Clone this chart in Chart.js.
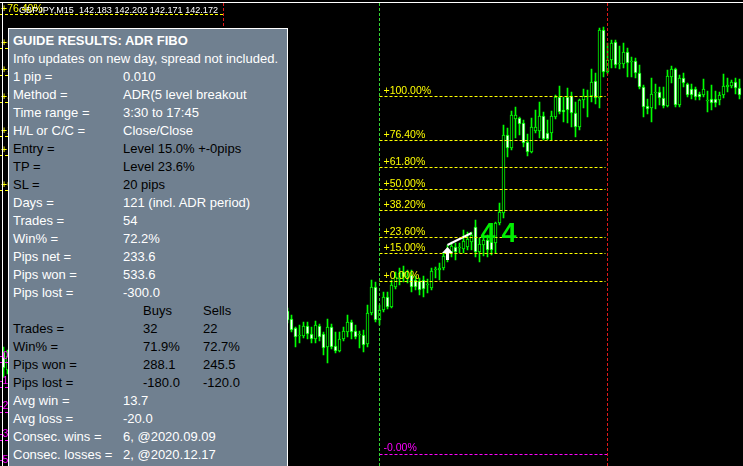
<!DOCTYPE html>
<html>
<head>
<meta charset="utf-8">
<script src="https://cdn.jsdelivr.net/npm/chart.js@4.4.0/dist/chart.umd.min.js"></script>
<style>
  html, body { margin: 0; padding: 0; background: #000; overflow: hidden; }
  #wrap { position: relative; width: 743px; height: 466px; }
  #panel {
    position: absolute; left: 8px; top: 28px; width: 278px; height: 440px;
    background: #708090; border: 1px solid #fff; border-bottom: none;
    font: 13px "Liberation Sans", Arial, sans-serif; overflow: hidden;
  }
  #panel div { position: absolute; height: 18px; line-height: 18px; white-space: nowrap; }
</style>
</head>
<body>
<div id="wrap">
  <canvas id="chart" width="743" height="466"></canvas>
  <div id="panel"></div>
</div>
<script>
// GBPJPY M15, bars are 15 min apart; index 0 = first bar at the left edge
const barCount = 185;
const startTime = Date.UTC(2020, 11, 29, 4, 0);

// two bars peeking out at the left edge (index 0, 1)
const edgeOpen  = [140.890, 140.800];
const edgeHigh  = [140.915, 140.900];
const edgeLow   = [140.765, 140.780];
const edgeClose = [140.810, 140.870];

// visible bars right of the info panel, from index 71 to 184
const firstBar = 71;
const open = [
  141.095, 141.055, 141.010, 140.970, 140.970, 141.020, 140.980, 140.955, 141.020, 140.980,
  140.915, 141.015, 140.920, 140.895, 140.955, 140.990, 141.040, 140.995, 140.975, 140.975,
  140.930, 141.085, 141.215, 141.050, 141.100, 141.165, 141.115, 141.215, 141.255, 141.290,
  141.265, 141.275, 141.250, 141.245, 141.250, 141.225, 141.210, 141.300, 141.300, 141.310,
  141.360, 141.390, 141.415, 141.410, 141.405, 141.415, 141.440, 141.515, 141.390, 141.425,
  141.450, 141.440, 141.435, 141.535, 141.585, 141.975, 141.910, 142.055, 142.060, 142.035,
  141.940, 141.890, 141.995, 141.995, 142.070, 141.985, 141.985, 142.065, 142.165, 142.100,
  142.165, 142.170, 142.085, 142.015, 142.150, 142.165, 142.170, 142.245, 142.160, 142.500,
  142.290, 142.350, 142.440, 142.330, 142.330, 142.390, 142.340, 142.345, 142.285, 142.215,
  142.120, 142.110, 142.185, 142.190, 142.160, 142.120, 142.265, 142.305, 142.125, 142.260,
  142.230, 142.205, 142.205, 142.180, 142.175, 142.145, 142.155, 142.155, 142.150, 142.175,
  142.215, 142.220, 142.240, 142.210
];
const high = [
  141.110, 141.075, 141.015, 141.025, 141.040, 141.040, 141.015, 141.045, 141.030, 140.990,
  141.055, 141.030, 140.990, 140.990, 141.015, 141.075, 141.050, 141.025, 140.995, 141.000,
  141.125, 141.250, 141.240, 141.125, 141.190, 141.190, 141.250, 141.290, 141.310, 141.320,
  141.300, 141.300, 141.270, 141.260, 141.270, 141.255, 141.310, 141.315, 141.335, 141.385,
  141.425, 141.440, 141.435, 141.435, 141.500, 141.490, 141.490, 141.550, 141.460, 141.470,
  141.475, 141.465, 141.540, 141.635, 142.025, 142.010, 142.095, 142.115, 142.065, 142.050,
  141.980, 142.060, 142.100, 142.140, 142.090, 142.050, 142.095, 142.175, 142.220, 142.165,
  142.210, 142.190, 142.140, 142.155, 142.205, 142.200, 142.305, 142.285, 142.510, 142.515,
  142.435, 142.450, 142.450, 142.420, 142.435, 142.410, 142.365, 142.360, 142.325, 142.225,
  142.155, 142.260, 142.230, 142.215, 142.215, 142.300, 142.320, 142.310, 142.275, 142.285,
  142.235, 142.230, 142.215, 142.190, 142.255, 142.195, 142.225, 142.195, 142.190, 142.280,
  142.260, 142.250, 142.260, 142.255
];
const low = [
  141.035, 140.990, 140.915, 140.935, 140.960, 140.955, 140.935, 140.935, 140.945, 140.875,
  140.835, 140.905, 140.885, 140.890, 140.945, 140.965, 140.955, 140.955, 140.910, 140.890,
  140.915, 141.075, 141.040, 141.025, 141.090, 141.105, 141.110, 141.205, 141.225, 141.240,
  141.235, 141.190, 141.200, 141.175, 141.165, 141.185, 141.200, 141.260, 141.250, 141.300,
  141.340, 141.365, 141.350, 141.385, 141.385, 141.400, 141.400, 141.365, 141.340, 141.370,
  141.365, 141.375, 141.385, 141.525, 141.560, 141.865, 141.900, 141.960, 141.975, 141.915,
  141.870, 141.885, 141.985, 141.960, 141.950, 141.950, 141.950, 142.055, 142.080, 142.040,
  142.035, 142.015, 141.965, 142.000, 142.110, 142.065, 142.140, 142.130, 142.110, 142.265,
  142.280, 142.310, 142.310, 142.305, 142.310, 142.265, 142.265, 142.260, 142.205, 142.065,
  142.080, 142.040, 142.105, 142.125, 142.110, 142.115, 142.235, 142.115, 142.115, 142.215,
  142.165, 142.155, 142.150, 142.150, 142.165, 142.090, 142.100, 142.115, 142.125, 142.160,
  142.190, 142.210, 142.180, 142.155
];
const close = [
  141.050, 141.000, 140.965, 140.970, 141.020, 140.980, 140.955, 141.025, 140.965, 140.910,
  141.015, 140.915, 140.895, 140.955, 140.995, 141.040, 140.990, 140.965, 140.975, 140.925,
  141.085, 141.215, 141.050, 141.100, 141.165, 141.115, 141.225, 141.265, 141.285, 141.265,
  141.265, 141.215, 141.215, 141.200, 141.205, 141.225, 141.295, 141.300, 141.310, 141.370,
  141.400, 141.420, 141.390, 141.410, 141.445, 141.455, 141.475, 141.390, 141.430, 141.450,
  141.400, 141.400, 141.535, 141.590, 141.975, 141.910, 142.075, 142.075, 142.030, 141.935,
  141.890, 142.015, 142.015, 142.070, 141.955, 141.955, 142.070, 142.165, 142.090, 142.090,
  142.100, 142.085, 142.015, 142.150, 142.170, 142.165, 142.240, 142.160, 142.500, 142.290,
  142.350, 142.435, 142.325, 142.330, 142.390, 142.335, 142.340, 142.285, 142.215, 142.115,
  142.105, 142.180, 142.185, 142.160, 142.120, 142.270, 142.305, 142.125, 142.260, 142.235,
  142.175, 142.175, 142.165, 142.165, 142.205, 142.145, 142.135, 142.135, 142.175, 142.220,
  142.225, 142.240, 142.210, 142.175
];

// ADR fibo of the current day (time range 3:30 - 17:45)
const dayLow = 141.245, dayHigh = 142.170;
const rangeStart = 94, rangeEnd = 151;
const fibPercents = [100, 76.4, 61.8, 50, 38.2, 23.6, 15, 0];
const fibTexts = ['+100.00%', '+76.40%', '+61.80%', '+50.00%', '+38.20%', '+23.60%', '+15.00%', '+0.00%'];
const sellLevel = 140.380, sellText = '-0.00%';

// previous day (mostly hidden under the panel)
const prevLow = 141.700, prevHigh = 142.852, prevEnd = 55;
const prevSellLevels = [140.840, 140.715, 140.590, 140.450, 140.320];
const prevSellTexts = ['-0.00%', '-15.00%', '-23.60%', '-38.20%', '-50.00%'];

// trade: buy arrow and line to take profit
const tradeFrom = 111, tradeTo = 117;
const tradePrices = [141.425, 141.485];
const arrowPrice = 141.415;
const countText = '44', countIndex = 119, countPrice = 141.440;

const titleText = 'GBPJPY,M15  142.183 142.202 142.171 142.172';

const panelRows = [
  ['GUIDE RESULTS: ADR FIBO', '', '', '#fff'],
  ['Info updates on new day, spread not included.', '', '', '#fff'],
  ['1 pip =', '0.010', '', '#fff'],
  ['Method =', 'ADR(5 level breakout', '', '#fff'],
  ['Time range =', '3:30 to 17:45', '', '#fff'],
  ['H/L or C/C =', 'Close/Close', '', '#fff'],
  ['Entry =', 'Level 15.0% +-0pips', '', '#000'],
  ['TP =', 'Level 23.6%', '', '#000'],
  ['SL =', '20 pips', '', '#000'],
  ['Days =', '121 (incl. ADR period)', '', '#fff'],
  ['Trades =', '54', '', '#fff'],
  ['Win% =', '72.2%', '', '#fff'],
  ['Pips net =', '233.6', '', '#fff'],
  ['Pips won =', '533.6', '', '#fff'],
  ['Pips lost =', '-300.0', '', '#fff'],
  ['', 'Buys', 'Sells', '#000'],
  ['Trades =', '32', '22', '#000'],
  ['Win% =', '71.9%', '72.7%', '#000'],
  ['Pips won =', '288.1', '245.5', '#000'],
  ['Pips lost =', '-180.0', '-120.0', '#000'],
  ['Avg win =', '13.7', '', '#fff'],
  ['Avg loss =', '-20.0', '', '#fff'],
  ['Consec. wins =', '6, @2020.09.09', '', '#fff'],
  ['Consec. losses =', '2, @2020.12.17', '', '#fff']
];

// ---- build tables for the chart ----
const pad = n => String(n).padStart(2, '0');
const labels = [];
for (let i = 0; i < barCount; i++) {
  const d = new Date(startTime + i * 15 * 60000);
  labels.push(d.getUTCFullYear() + '.' + pad(d.getUTCMonth() + 1) + '.' + pad(d.getUTCDate()) + ' ' + pad(d.getUTCHours()) + ':' + pad(d.getUTCMinutes()));
}
function place(edge, vis) {
  const a = new Array(barCount).fill(null);
  edge.forEach((v, k) => { a[k] = v; });
  vis.forEach((v, k) => { a[firstBar + k] = v; });
  return a;
}
const O = place(edgeOpen, open), H = place(edgeHigh, high), L = place(edgeLow, low), C = place(edgeClose, close);
const wicks = O.map((o, i) => o == null ? null : [L[i], H[i]]);
const bodies = O.map((o, i) => o == null ? null : [o, C[i]]);
const fills = O.map((o, i) => (o != null && C[i] < o) ? '#ffffff' : '#000000');
const tradeLine = [
  { x: labels[tradeFrom], y: tradePrices[0] },
  { x: labels[tradeTo], y: tradePrices[1] }
];

const LABEL_FONT = '10.5px "Liberation Sans", Arial, sans-serif';

function hDash(ctx, x0, x1, yy, color) {
  ctx.strokeStyle = color;
  ctx.lineWidth = 1;
  ctx.setLineDash([3, 2]);
  ctx.beginPath();
  ctx.moveTo(x0, Math.round(yy) + 0.5);
  ctx.lineTo(x1, Math.round(yy) + 0.5);
  ctx.stroke();
}
function vDash(ctx, xx, y0, y1, color) {
  ctx.strokeStyle = color;
  ctx.lineWidth = 1;
  ctx.setLineDash([3, 2]);
  ctx.beginPath();
  ctx.moveTo(Math.floor(xx) + 0.5, y0);
  ctx.lineTo(Math.floor(xx) + 0.5, y1);
  ctx.stroke();
}

const overlay = {
  id: 'overlay',
  afterDatasetsDraw(chart) {
    const { ctx, chartArea: ca, scales: { x, y } } = chart;
    ctx.save();
    ctx.font = LABEL_FONT;
    ctx.textBaseline = 'alphabetic';

    // previous day levels
    const prevX1 = x.getPixelForValue(prevEnd);
    fibPercents.forEach((p, k) => {
      const v = prevLow + (prevHigh - prevLow) * p / 100;
      const py = y.getPixelForValue(v);
      if (py < 3) return;
      hDash(ctx, 0, prevX1, py, '#ffff00');
      ctx.fillStyle = '#ffff00';
      ctx.fillText(fibTexts[k], 1, Math.round(py) - 2);
    });
    prevSellLevels.forEach((v, k) => {
      const py = y.getPixelForValue(v);
      hDash(ctx, 0, prevX1, py, '#ff00ff');
      ctx.fillStyle = '#ff00ff';
      ctx.fillText(prevSellTexts[k], -1, Math.round(py) - 3);
    });
    vDash(ctx, prevX1, 3, ca.bottom, '#e01818');

    // current day levels
    const x0 = x.getPixelForValue(rangeStart), x1 = x.getPixelForValue(rangeEnd);
    fibPercents.forEach((p, k) => {
      const v = dayLow + (dayHigh - dayLow) * p / 100;
      const py = y.getPixelForValue(v);
      hDash(ctx, x0, x1 - 2, py, '#ffff00');
      ctx.fillStyle = '#ffff00';
      ctx.fillText(fibTexts[k], x0 + 4, Math.round(py) - 2);
    });
    const sy = y.getPixelForValue(sellLevel);
    hDash(ctx, x0, x1, sy, '#ff00ff');
    ctx.fillStyle = '#ff00ff';
    ctx.fillText(sellText, x0 + 4, Math.round(sy) - 3);

    vDash(ctx, x0, 3, ca.bottom, '#32d232');
    vDash(ctx, x1, 3, ca.bottom, '#e01818');

    // buy arrow
    const ax = Math.floor(x.getPixelForValue(tradeFrom)) + 0.5;
    const ay = Math.round(y.getPixelForValue(arrowPrice));
    ctx.setLineDash([]);
    ctx.fillStyle = '#ffffff';
    ctx.beginPath();
    ctx.moveTo(ax, ay);
    ctx.lineTo(ax + 5.5, ay + 6);
    ctx.lineTo(ax + 1.5, ay + 6);
    ctx.lineTo(ax + 1.5, ay + 13);
    ctx.lineTo(ax - 1.5, ay + 13);
    ctx.lineTo(ax - 1.5, ay + 6);
    ctx.lineTo(ax - 5.5, ay + 6);
    ctx.closePath();
    ctx.fill();

    // trade count
    ctx.fillStyle = '#00ee00';
    ctx.font = 'bold 27px "Liberation Sans", Arial, sans-serif';
    if ('letterSpacing' in ctx) ctx.letterSpacing = '6px';
    ctx.fillText(countText, x.getPixelForValue(countIndex) + 1, y.getPixelForValue(countPrice));
    if ('letterSpacing' in ctx) ctx.letterSpacing = '0px';

    // window border and symbol title
    ctx.fillStyle = '#ffffff';
    ctx.fillRect(0, 2, 743, 1);
    ctx.fillRect(2, 2, 1, 464);
    ctx.font = '9.1px "Liberation Sans", Arial, sans-serif';
    ctx.fillText(titleText, 19, 13);
    ctx.restore();
  }
};

new Chart(document.getElementById('chart'), {
  type: 'bar',
  data: {
    labels: labels,
    datasets: [
      {
        type: 'line',
        data: tradeLine,
        borderColor: '#ffffff',
        borderWidth: 2,
        pointRadius: 0,
        order: 1
      },
      {
        data: bodies,
        backgroundColor: fills,
        borderColor: '#00ff00',
        borderWidth: 1,
        borderSkipped: false,
        barThickness: 3,
        minBarLength: 1,
        grouped: false,
        order: 2
      },
      {
        data: wicks,
        backgroundColor: '#00ff00',
        borderWidth: 0,
        barThickness: 1,
        grouped: false,
        order: 3
      }
    ]
  },
  options: {
    responsive: false,
    animation: false,
    layout: { padding: { left: 1.5, right: 1.5, top: 0, bottom: 0 } },
    plugins: { legend: { display: false }, tooltip: { enabled: false } },
    scales: {
      x: { display: false, offset: true },
      y: { display: false, min: 140.32, max: 142.65 }
    }
  },
  plugins: [overlay]
});

// info panel
const panel = document.getElementById('panel');
panelRows.forEach((r, k) => {
  const top = 3 + k * 18;
  [[r[0], 4], [r[1], r[2] || k === 15 ? 134 : 114], [r[2], 194]].forEach(([txt, left], c) => {
    if (!txt) return;
    const d = document.createElement('div');
    d.textContent = txt;
    d.style.top = top + 'px';
    d.style.left = left + 'px';
    d.style.color = r[3];
    if (k === 0) d.style.fontWeight = 'bold';
    panel.appendChild(d);
  });
});
</script>
</body>
</html>
